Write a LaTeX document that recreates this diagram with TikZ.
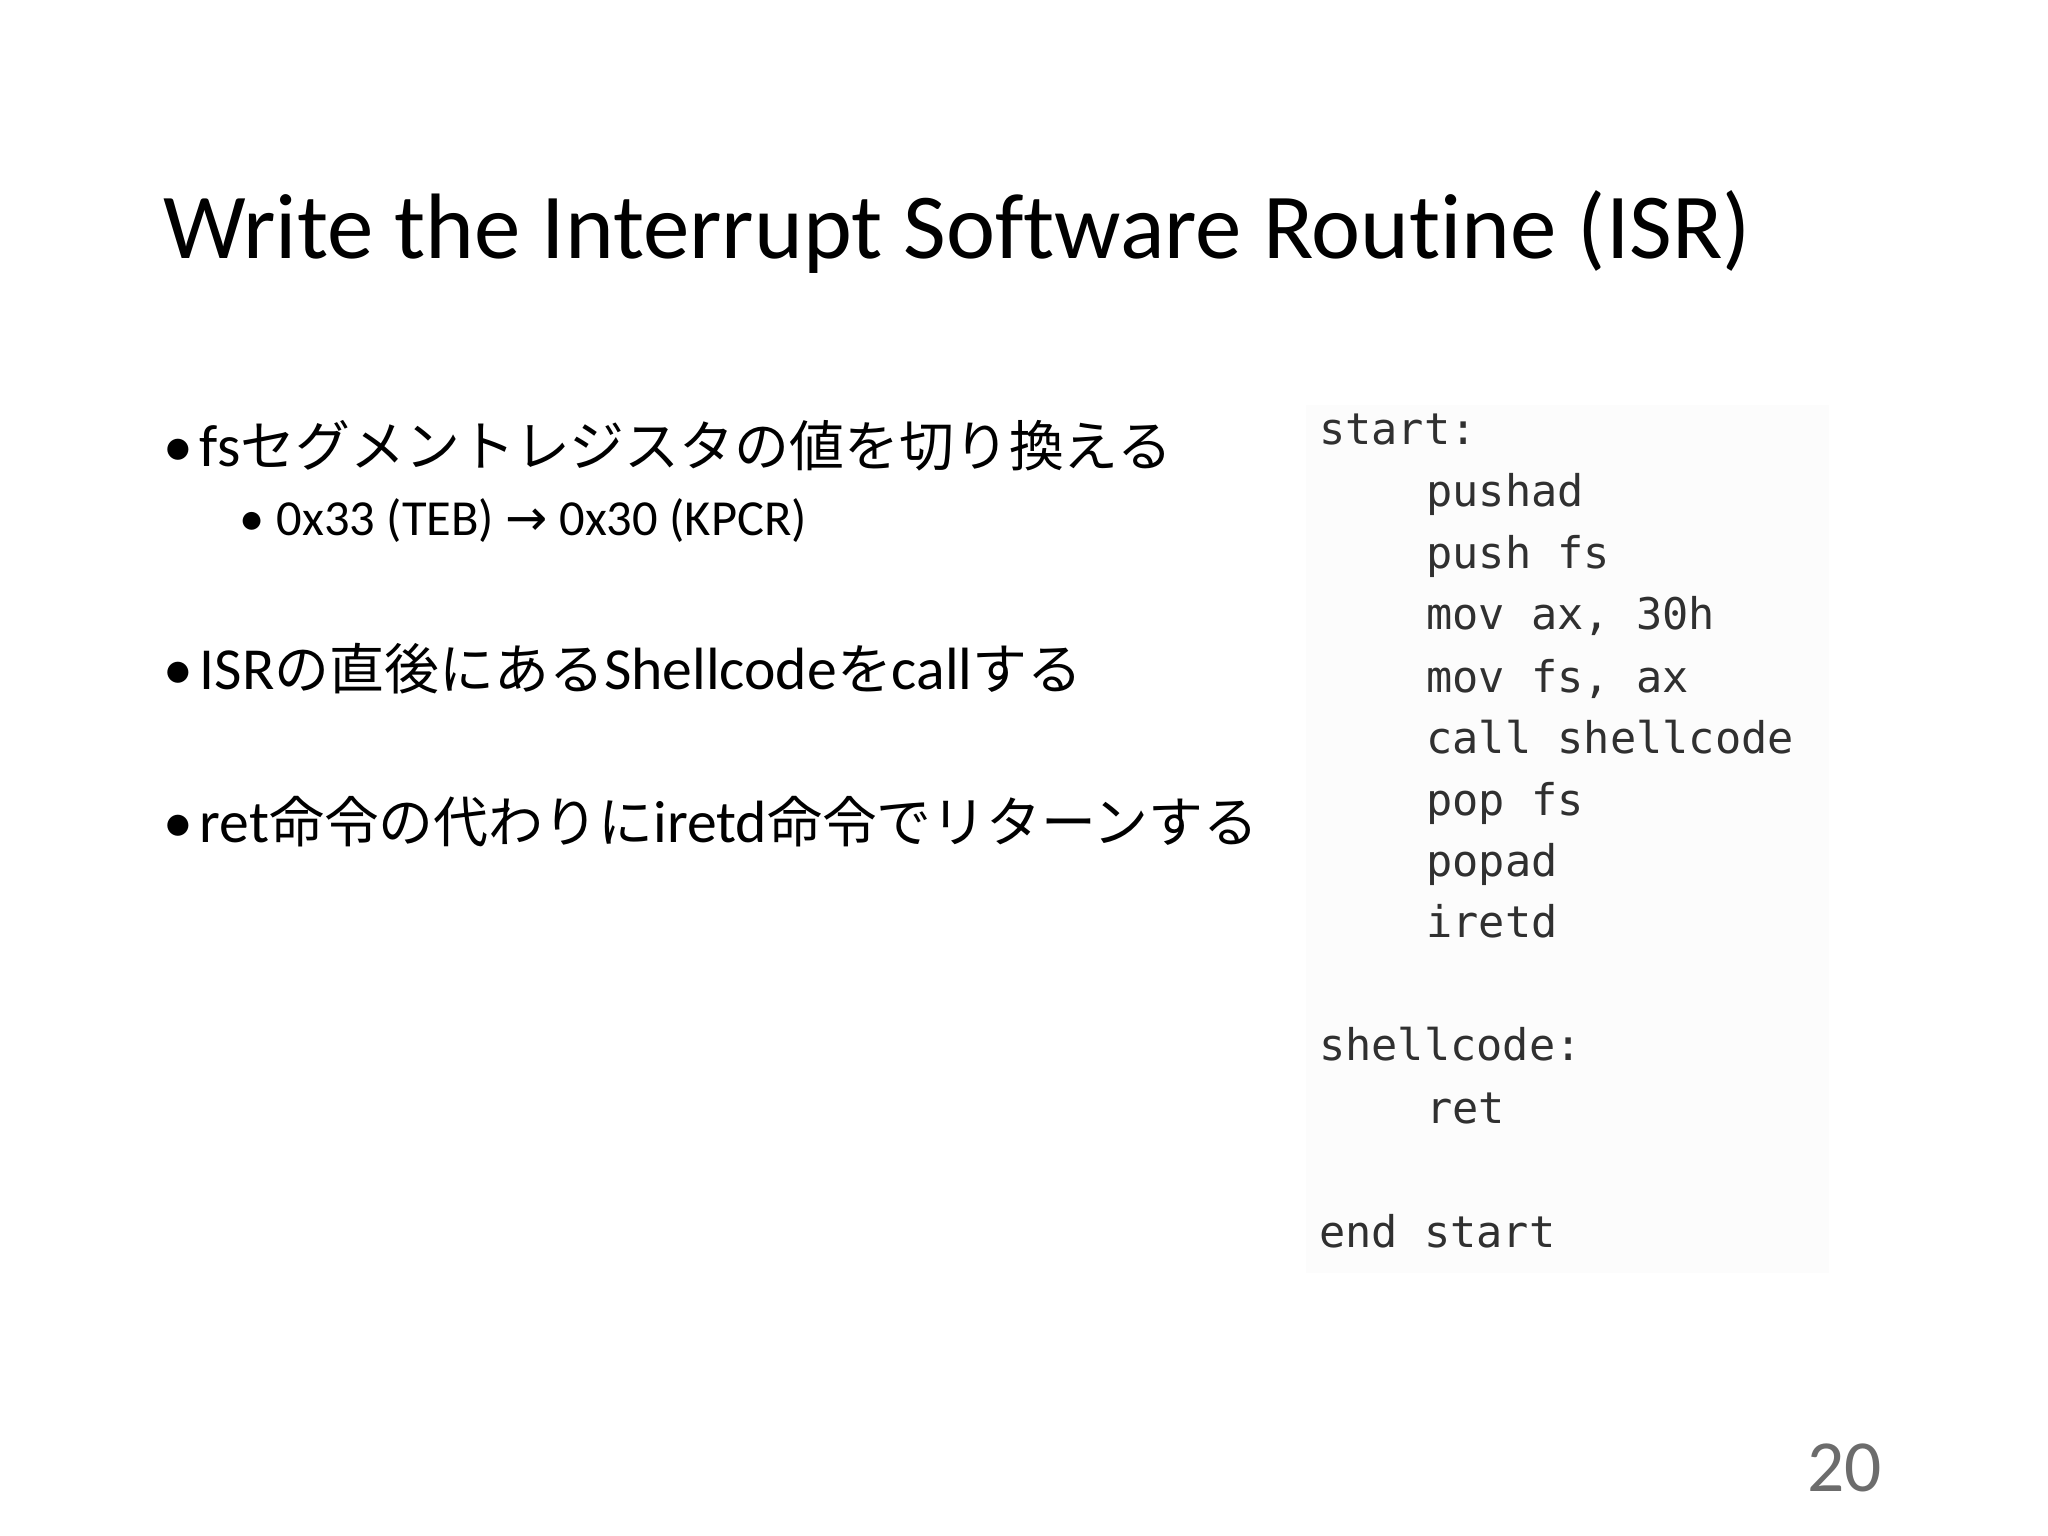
\documentclass[tikz,border=0pt]{standalone}
\usepackage{fontspec}
\setmainfont[RawFeature={-liga}]{Carlito}
\newfontfamily\jp[Scale=0.92]{Noto Sans CJK JP}
\newfontfamily\dv{DejaVu Sans}
\newfontfamily\cmono{DejaVu Sans Mono}
\definecolor{codec}{HTML}{303030}
\begin{document}
\begin{tikzpicture}[x=0.02cm,y=-0.02cm,
  txt/.style={anchor=base west,inner sep=0pt,outer sep=0pt},
  bul/.style={txt,font=\fontsize{26}{30}\selectfont},
  sub/.style={txt,font=\fontsize{22}{26}\selectfont},
  code/.style={txt,font=\cmono\fontsize{19}{22}\selectfont,text=codec}]
\useasboundingbox (0,0) rectangle (1568,1176);
\fill[gray!2] (1000,310) rectangle (1400,975);
\node[txt,font=\fontsize{40.5}{48}\selectfont] (title) at (125,198) {Write the Interrupt Software Routine (ISR)};
\node[bul] (b1d) at (125,357) {•};
\node[bul] (b1) at (153,357) {fs{\jp セグメントレジスタの値を切り換える}};
\node[sub] (s1d) at (183,410) {•};
\node[sub] (s1) at (212,410) {0x33 (TEB) {\dv →} 0x30 (KPCR)};
\node[bul] (b2d) at (125,528) {•};
\node[bul] (b2) at (153,528) {ISR{\jp の直後にある}Shellcode{\jp を}call{\jp する}};
\node[bul] (b3d) at (125,645) {•};
\node[bul] (b3) at (153,645) {ret{\jp 命令の代わりに}iretd{\jp 命令でリターンする}};
\node[code] (c1) at (1010,340) {start:};
\node[code] (c2) at (1092,388) {pushad};
\node[code] (c3) at (1092,435) {push fs};
\node[code] (c4) at (1092,482) {mov ax, 30h};
\node[code] (c5) at (1092,530) {mov fs, ax};
\node[code] (c6) at (1092,577) {call shellcode};
\node[code] (c7) at (1092,624) {pop fs};
\node[code] (c8) at (1092,671) {popad};
\node[code] (c9) at (1092,718) {iretd};
\node[code] (c10) at (1010,812) {shellcode:};
\node[code] (c11) at (1092,860) {ret};
\node[code] (c12) at (1010,955) {end start};
\node[txt,font=\fontsize{32}{36}\selectfont,text=gray!85!black] (num) at (1384,1142) {20};
\end{tikzpicture}
\end{document}
